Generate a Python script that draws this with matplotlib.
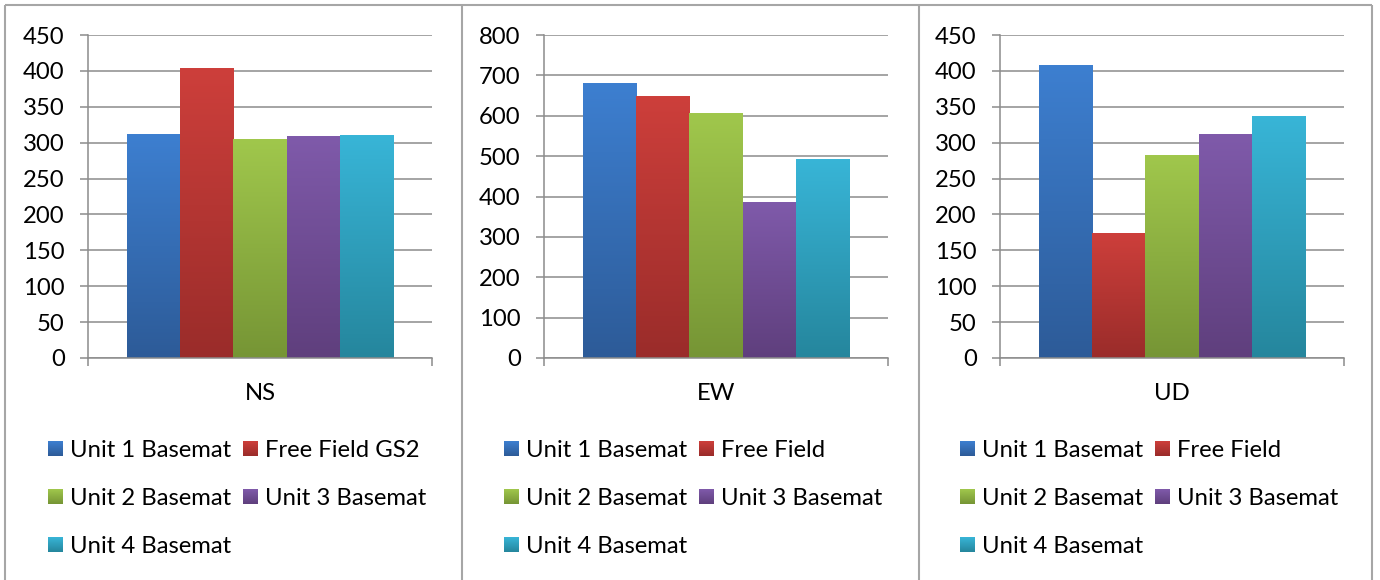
import numpy as np
import matplotlib.pyplot as plt
from matplotlib.colors import to_rgb

# ---- data -------------------------------------------------------------
components = ["NS", "EW", "UD"]
series_ns = ["Unit 1 Basemat", "Free Field GS2", "Unit 2 Basemat",
             "Unit 3 Basemat", "Unit 4 Basemat"]
series_other = ["Unit 1 Basemat", "Free Field", "Unit 2 Basemat",
                "Unit 3 Basemat", "Unit 4 Basemat"]
ns_values = [312, 404, 305, 308, 310]
ew_values = [680, 648, 606, 384, 492]
ud_values = [408, 174, 282, 312, 337]
y_max = [450, 800, 450]
y_step = [50, 100, 50]

# ---- style ------------------------------------------------------------
top_colors = ["#3D7FD0", "#CD3F3B", "#A0C74C", "#7F5AAA", "#38B5D7"]
bottom_colors = ["#2D5B98", "#9A2C2A", "#769535", "#5F3F7D", "#25869D"]
GRID = "#8C8C8C"
BORDER = "#A6A6A6"
FONT = ["Lato", "DejaVu Sans"]
FS = 17.2

plt.rcParams["font.family"] = FONT

W, H = 1380, 580
DPI = 100
fig = plt.figure(figsize=(W / DPI, H / DPI), dpi=DPI)

# overlay in pixel coordinates for frames and legends
ov = fig.add_axes([0, 0, 1, 1], zorder=0)
ov.set_xlim(0, W)
ov.set_ylim(H, 0)
ov.axis("off")


def gradient(c_top, c_bot, n=128):
    t = np.linspace(0, 1, n)[:, None, None]
    a = np.array(to_rgb(c_top))[None, None, :]
    b = np.array(to_rgb(c_bot))[None, None, :]
    return a * (1 - t) + b * t


# frame lines
lw_border = 1.5
ov.plot([5, 5], [5, H], color=BORDER, lw=lw_border, solid_capstyle="butt")
ov.plot([5, 1372], [5, 5], color=BORDER, lw=lw_border, solid_capstyle="butt")
ov.plot([1372, 1372], [5, H], color=BORDER, lw=lw_border, solid_capstyle="butt")
ov.plot([461.5, 461.5], [5, H], color=BORDER, lw=lw_border, solid_capstyle="butt")
ov.plot([918.5, 918.5], [5, H], color=BORDER, lw=lw_border, solid_capstyle="butt")

# plot areas (pixels): left, right, top, bottom
areas = [(88, 432, 35, 358), (544, 888, 35, 358), (1000, 1344, 35, 358)]
legend_x = [(48, 243), (504, 699), (960, 1155)]
row_base = [457, 505, 553]

all_values = [ns_values, ew_values, ud_values]
all_series = [series_ns, series_other, series_other]

bar_w = 0.1542
offsets = (np.arange(5) - 2) * bar_w

for k in range(3):
    l, r, t, b = areas[k]
    ax = fig.add_axes([l / W, (H - b) / H, (r - l) / W, (b - t) / H], zorder=1)
    vals = all_values[k]
    bars = ax.bar(offsets, vals, width=bar_w, color="none", edgecolor="none",
                  zorder=2)
    for i, rect in enumerate(bars):
        x0 = rect.get_x()
        ax.imshow(gradient(top_colors[i], bottom_colors[i]),
                  extent=[x0, x0 + rect.get_width(), 0, rect.get_height()],
                  aspect="auto", origin="upper", interpolation="bilinear",
                  clip_path=rect, zorder=2)
    ax.set_xlim(-0.5, 0.5)
    ax.set_ylim(0, y_max[k])
    ax.set_yticks(np.arange(0, y_max[k] + 1, y_step[k]))
    ax.set_xticks([-0.5, 0.5])
    ax.set_xticklabels([])
    ax.yaxis.grid(True, color=GRID, lw=1.1)
    ax.set_axisbelow(True)
    for s in ("top", "right"):
        ax.spines[s].set_visible(False)
    for s in ("left", "bottom"):
        ax.spines[s].set_color(GRID)
        ax.spines[s].set_linewidth(1.1)
    ax.tick_params(axis="y", direction="out", length=5.8, width=1.1,
                   color=GRID, pad=11, labelsize=FS, labelcolor="black")
    ax.tick_params(axis="x", direction="out", length=5.8, width=1.1,
                   color=GRID)
    ax.set_facecolor("white")

    # category label
    ov.text((l + r) / 2, 400, components[k], ha="center", va="baseline",
            fontsize=FS, color="black")

    # legend: row-major, two columns
    names = all_series[k]
    for i, name in enumerate(names):
        row, col = divmod(i, 2)
        mx = legend_x[k][col]
        yb = row_base[row]
        cy = yb - 8
        ov.imshow(gradient(top_colors[i], bottom_colors[i], 32),
                  extent=[mx, mx + 15, cy + 7.5, cy - 7.5], aspect="auto",
                  origin="upper", interpolation="bilinear", zorder=3)
        ov.text(mx + 22, yb, name, ha="left", va="baseline", fontsize=FS,
                color="black")

ov.set_xlim(0, W)
ov.set_ylim(H, 0)

fig.savefig("out.png", dpi=DPI, facecolor="white")
